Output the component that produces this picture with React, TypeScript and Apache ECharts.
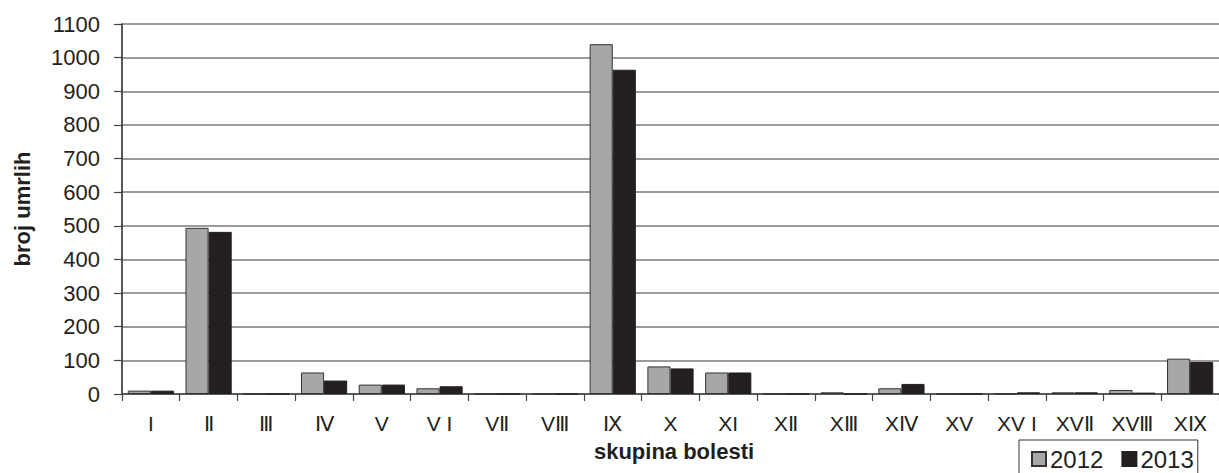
import React, { useEffect, useRef } from "react";
import * as echarts from "echarts";

const categories = ["I", "Ⅱ", "Ⅲ", "Ⅳ", "V", "V I", "VⅡ", "VⅢ", "Ⅸ", "X", "XI", "XⅡ", "XⅢ", "XⅣ", "XV", "XV I", "XVⅡ", "XVⅢ", "XⅨ"];
const values2012 = [10, 494, 0, 64, 28, 17, 0, 0, 1040, 82, 64, 0, 5, 17, 0, 1, 5, 12, 105];
const values2013 = [10, 482, 0, 40, 28, 23, 0, 0, 964, 76, 64, 0, 0, 30, 0, 5, 5, 4, 95];
const yTicks = { min: 0, max: 1100, interval: 100 };

export default function App() {
  const ref = useRef<HTMLDivElement>(null);
  useEffect(() => {
    document.body.style.margin = "0";
    const chart = echarts.init(ref.current!, null, { renderer: "svg" });
    const font = "'Liberation Sans', Arial, sans-serif";
    chart.setOption({
      animation: false,
      backgroundColor: "#fff",
      grid: { left: 122, right: -10, top: 24, bottom: 79, containLabel: false },
      legend: {
        left: 1019,
        top: 440,
        orient: "horizontal",
        icon: "rect",
        itemWidth: 14,
        itemHeight: 14,
        itemGap: 18,
        padding: [7, 4, 12, 12],
        borderColor: "#333",
        borderWidth: 1,
        textStyle: { fontFamily: font, fontSize: 24, color: "#231f20", padding: [0, 0, 0, -1] },
        data: ["2012", "2013"],
      },
      xAxis: {
        type: "category",
        data: categories,
        axisLine: { lineStyle: { color: "#444", width: 1.5 } },
        axisTick: { show: true, length: 7, lineStyle: { color: "#444", width: 1.2 } },
        axisLabel: { fontFamily: font, fontSize: 21, lineHeight: 16, color: "#231f20", margin: 21, interval: 0 },
      },
      yAxis: {
        type: "value",
        min: yTicks.min,
        max: yTicks.max,
        interval: yTicks.interval,
        axisLine: { show: true, lineStyle: { color: "#231f20", width: 1.5 } },
        axisTick: { show: true, length: 8, lineStyle: { color: "#444", width: 1.2 } },
        axisLabel: { fontFamily: font, fontSize: 22, color: "#231f20", margin: 22, formatter: (v: number) => String(v) },
        splitLine: { lineStyle: { color: "#7a7a7a", width: 1.5 } },
      },
      graphic: [
        {
          type: "text",
          x: 22,
          y: 209,
          rotation: Math.PI / 2,
          style: {
            text: "broj umrlih",
            fontFamily: font,
            fontWeight: "bold",
            fontSize: 22,
            fill: "#231f20",
            textAlign: "center",
            textVerticalAlign: "middle",
          },
        },
        {
          type: "text",
          x: 674,
          y: 451,
          style: {
            text: "skupina bolesti",
            fontFamily: font,
            fontWeight: "bold",
            fontSize: 22,
            lineHeight: 18,
            fill: "#231f20",
            textAlign: "center",
            textVerticalAlign: "middle",
          },
        },
      ],
      series: [
        {
          name: "2012",
          type: "bar",
          data: values2012,
          barGap: "0%",
          barCategoryGap: "20%",
          itemStyle: { color: "#a7a7a9", borderColor: "#333", borderWidth: 1 },
        },
        {
          name: "2013",
          type: "bar",
          data: values2013,
          barGap: "0%",
          barCategoryGap: "20%",
          itemStyle: { color: "#231f20", borderColor: "#231f20", borderWidth: 1 },
        },
      ],
    });
    return () => chart.dispose();
  }, []);
  return <div ref={ref} style={{ position: "absolute", left: 0, top: 0, width: 1219, height: 473 }} />;
}
